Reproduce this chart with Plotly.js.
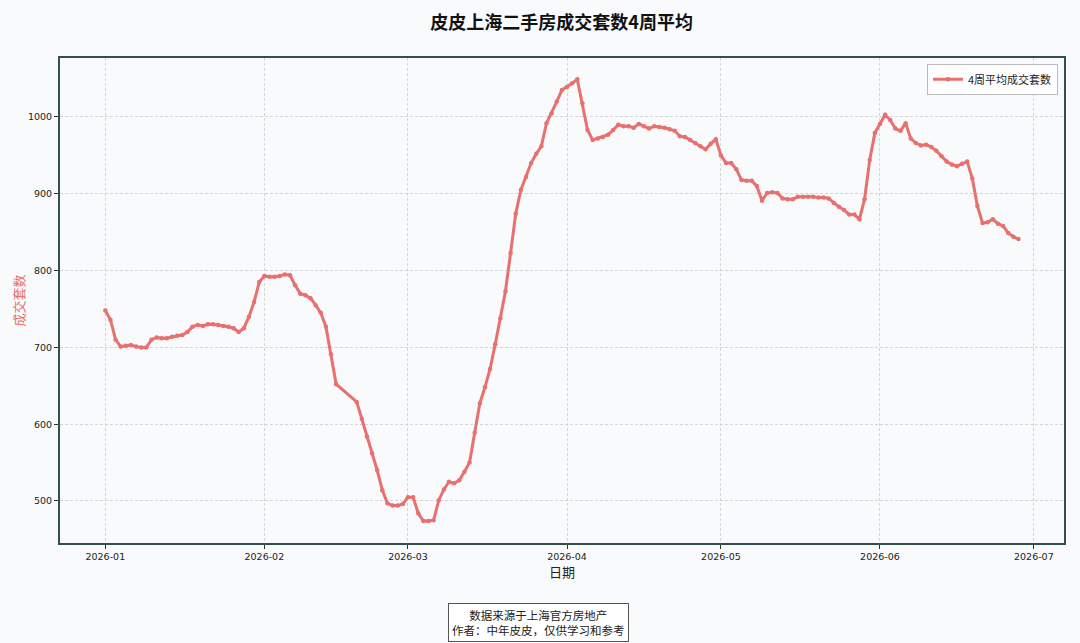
<!DOCTYPE html>
<html>
<head>
<meta charset="utf-8">
<script src="https://cdn.plot.ly/plotly-3.0.1.min.js"></script>
<style>
  html, body { margin: 0; padding: 0; background: #f8fafb; }
  #chart { width: 1080px; height: 643px; }
</style>
</head>
<body>
<div id="chart"></div>
<script>
// 4-week average transaction counts, one value per day (null = no data)
const jan = [748, 736, 710, 701, 702, 703, 701, 700, 700, 710, 713, 712, 712, 714, 715, 716,
             720, 727, 729, 728, 730, 730, 729, 728, 727, 725, 720, 725, 740, 759, 785];
const feb = [793, 792, 792, 793, 795, 794, 781, 770, 768, 764, 755, 745, 727, 691, 652,
             null, null, null, 629, 607, 584, 562, 540, 514, 497, 494, 494, 496];
const mar = [505, 505, 484, 474, 474, 475, 501, 515, 525, 523, 527, 538, 550, 589, 627, 648,
             672, 704, 738, 773, 823, 874, 905, 922, 940, 952, 962, 992, 1005, 1020, 1035];
const apr = [1039, 1044, 1049, 1018, 983, 970, 972, 974, 977, 983, 990, 988, 988, 986, 991,
             988, 985, 988, 987, 986, 984, 982, 975, 974, 970, 966, 962, 958, 965, 971];
const may = [950, 940, 940, 932, 918, 917, 917, 910, 891, 901, 902, 901, 894, 893, 893, 896,
             896, 896, 896, 895, 895, 894, 888, 883, 879, 873, 873, 867, 893, 944, 979];
const jun = [991, 1003, 996, 985, 982, 992, 972, 966, 963, 964, 961, 956, 949, 942, 938, 936,
             939, 942, 920, 884, 862, 863, 867, 861, 858, 849, 844, 841];

const months = ["2026-01", "2026-02", "2026-03", "2026-04", "2026-05", "2026-06"];
const monthValues = [jan, feb, mar, apr, may, jun];
const yTicks = [500, 600, 700, 800, 900, 1000];

const dates = [];
const values = [];
monthValues.forEach((arr, mi) => {
  arr.forEach((v, di) => {
    if (v === null) return;
    const dd = String(di + 1).padStart(2, "0");
    dates.push(months[mi] + "-" + dd);
    values.push(v);
  });
});

const lineColor = "#e8706f";
const fontFam = "DejaVu Sans, Noto Sans CJK SC, sans-serif";
const cjk = "Noto Sans CJK SC, sans-serif";

const trace = {
  x: dates,
  y: values,
  type: "scatter",
  mode: "lines+markers",
  name: "4周平均成交套数",
  line: { color: lineColor, width: 3 },
  marker: { color: lineColor, size: 4.5 }
};

const layout = {
  width: 1080,
  height: 643,
  paper_bgcolor: "#f8fafb",
  plot_bgcolor: "#f8fafb",
  margin: { l: 60, r: 16, t: 58, b: 100 },
  font: { family: fontFam, color: "#222", size: 10 },
  title: {
    text: "<b>皮皮上海二手房成交套数4周平均</b>",
    font: { family: cjk, size: 18, color: "#111" },
    x: 0.52, xanchor: "center", y: 0.965, yanchor: "middle"
  },
  xaxis: {
    type: "date",
    range: ["2025-12-23 04:00", "2026-07-06 21:00"],
    tick0: "2026-01-01",
    dtick: "M1",
    tickformat: "%Y-%m",
    ticks: "outside",
    ticklen: 4,
    tickcolor: "#333",
    tickfont: { size: 9.5, color: "#222" },
    showgrid: true,
    gridcolor: "#c9cdd0",
    griddash: "3px,2px",
    gridwidth: 0.8,
    showline: true,
    mirror: true,
    linecolor: "#34504a",
    linewidth: 2,
    zeroline: false,
    title: { text: "日期", font: { family: cjk, size: 13, color: "#222" }, standoff: 2 }
  },
  yaxis: {
    range: [445.3, 1076.8],
    tickvals: yTicks,
    ticks: "outside",
    ticklen: 4,
    tickcolor: "#333",
    tickfont: { size: 9.5, color: "#222" },
    showgrid: true,
    gridcolor: "#c9cdd0",
    griddash: "3px,2px",
    gridwidth: 0.8,
    showline: true,
    mirror: true,
    linecolor: "#34504a",
    linewidth: 2,
    zeroline: false,
    title: { text: "成交套数", font: { family: cjk, size: 13, color: lineColor }, standoff: 0 }
  },
  showlegend: true,
  legend: {
    x: 0.994, xanchor: "right",
    y: 0.988, yanchor: "top",
    bgcolor: "#ffffff",
    bordercolor: "#bbbbbb",
    borderwidth: 1,
    tracegroupgap: 0,
    itemwidth: 30,
    font: { family: cjk, size: 11, color: "#222" }
  },
  annotations: [{
    text: "数据来源于上海官方房地产<br>作者：中年皮皮，仅供学习和参考",
    xref: "paper", yref: "paper",
    x: 0.477, y: -0.163, xanchor: "center", yanchor: "middle",
    showarrow: false,
    align: "center",
    font: { family: cjk, size: 11.5, color: "#222" },
    bgcolor: "#ffffff",
    bordercolor: "#555555",
    borderwidth: 1,
    borderpad: 3
  }]
};

Plotly.newPlot("chart", [trace], layout, { displayModeBar: false, staticPlot: true });
</script>
</body>
</html>
